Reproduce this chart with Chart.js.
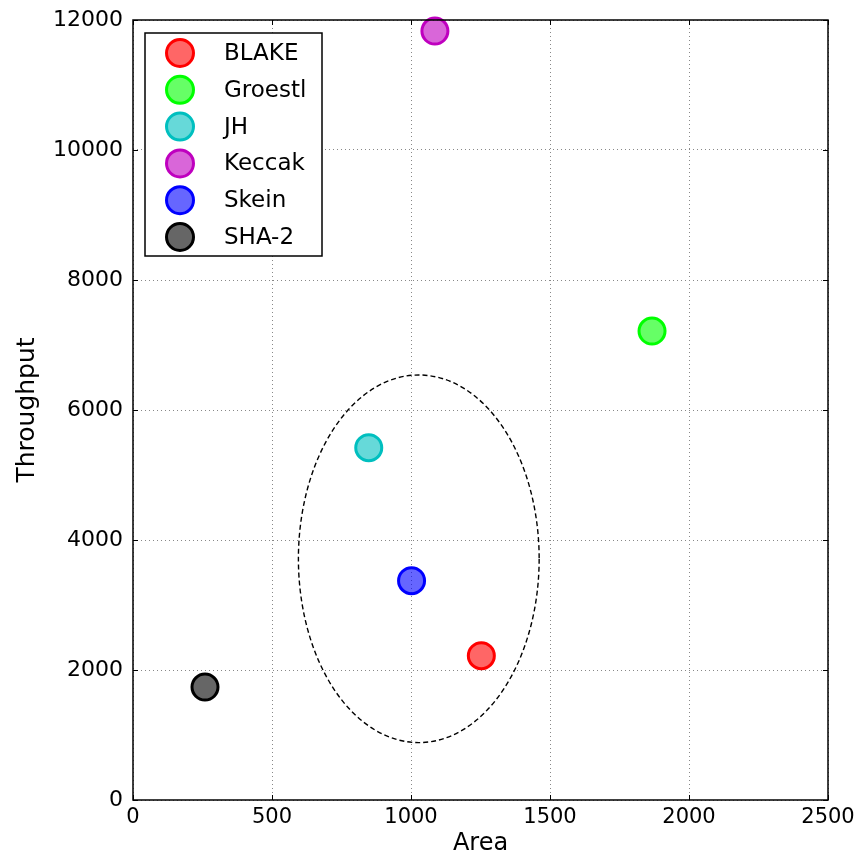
<!DOCTYPE html>
<html>
<head>
<meta charset="utf-8">
<script src="https://cdn.jsdelivr.net/npm/chart.js@4"></script>
<style>
  html, body { margin: 0; padding: 0; background: #fff; }
  #wrap { width: 861px; height: 858px; }
</style>
</head>
<body>
<div id="wrap"><canvas id="scatterChart" width="861" height="858"></canvas></div>
<script>
// datos
var categories = ['BLAKE', 'Groestl', 'JH', 'Keccak', 'Skein', 'SHA-2'];
var areaValues = [1253, 1867, 848, 1086, 1002, 259];
var throughputValues = [2220, 7215, 5420, 11830, 3374, 1738];
var pointColors = ['#ff0000', '#00ff00', '#00bfbf', '#bf00bf', '#0000ff', '#000000'];
var xTicks = [0, 500, 1000, 1500, 2000, 2500];
var yTicks = [0, 2000, 4000, 6000, 8000, 10000, 12000];
// elipse: centro x, centro y, radio x, radio y (unidades de datos)
var ellipse = [1028, 3711, 433, 2828];

var FONT = 'DejaVu Sans';

function withAlpha(hex, a) {
    var r = parseInt(hex.substr(1, 2), 16);
    var g = parseInt(hex.substr(3, 2), 16);
    var b = parseInt(hex.substr(5, 2), 16);
    return 'rgba(' + r + ',' + g + ',' + b + ',' + a + ')';
}

var datasets = [];
for (var i = 0; i < categories.length; i++) {
    datasets.push({
        label: categories[i],
        data: [{ x: areaValues[i], y: throughputValues[i] }],
        backgroundColor: withAlpha(pointColors[i], 0.6),
        borderColor: pointColors[i],
        borderWidth: 3,
        pointRadius: 13,
        pointHoverRadius: 13,
        clip: false
    });
}

// marco, marcas interiores y elipse
var framePlugin = {
    id: 'frame',
    afterDatasetsDraw: function(chart) {
        var ctx = chart.ctx;
        var a = chart.chartArea;
        var xs = chart.scales.x, ys = chart.scales.y;
        ctx.save();
        // elipse
        var cx = xs.getPixelForValue(ellipse[0]);
        var cy = ys.getPixelForValue(ellipse[1]);
        var rx = Math.abs(xs.getPixelForValue(ellipse[0] + ellipse[2]) - cx);
        var ry = Math.abs(ys.getPixelForValue(ellipse[1] + ellipse[3]) - cy);
        ctx.beginPath();
        ctx.setLineDash([5, 3]);
        ctx.lineWidth = 1.4;
        ctx.strokeStyle = '#000';
        ctx.ellipse(cx, cy, rx, ry, 0, 0, Math.PI * 2);
        ctx.stroke();
        ctx.setLineDash([]);
        // marcas
        ctx.lineWidth = 1;
        ctx.beginPath();
        xTicks.forEach(function(v) {
            var px = Math.round(xs.getPixelForValue(v)) + 0.5;
            ctx.moveTo(px, a.bottom); ctx.lineTo(px, a.bottom - 5);
            ctx.moveTo(px, a.top); ctx.lineTo(px, a.top + 5);
        });
        yTicks.forEach(function(v) {
            var py = Math.round(ys.getPixelForValue(v)) + 0.5;
            ctx.moveTo(a.left, py); ctx.lineTo(a.left + 5, py);
            ctx.moveTo(a.right, py); ctx.lineTo(a.right - 5, py);
        });
        ctx.stroke();
        // marco
        ctx.lineWidth = 1.5;
        ctx.strokeRect(a.left, a.top, a.right - a.left, a.bottom - a.top);
        ctx.restore();
    },
    afterDraw: function(chart) {
        // leyenda dentro del area
        var ctx = chart.ctx;
        ctx.save();
        ctx.fillStyle = '#fff';
        ctx.fillRect(145, 33, 177, 223);
        ctx.lineWidth = 1.5;
        ctx.strokeStyle = '#000';
        ctx.strokeRect(145, 33, 177, 223);
        ctx.font = '23px "' + FONT + '"';
        ctx.textBaseline = 'middle';
        chart.data.datasets.forEach(function(ds, k) {
            var y = 53 + k * 36.8;
            ctx.beginPath();
            ctx.arc(180, y, 13.5, 0, Math.PI * 2);
            ctx.fillStyle = ds.backgroundColor;
            ctx.fill();
            ctx.lineWidth = 3;
            ctx.strokeStyle = ds.borderColor;
            ctx.stroke();
            ctx.fillStyle = '#000';
            ctx.fillText(ds.label, 224, y + 1);
        });
        ctx.restore();
    }
};

function plainLabel(v) { return String(v); }

var ctx = document.getElementById('scatterChart').getContext('2d');
var scatterChart = new Chart(ctx, {
    type: 'scatter',
    data: { datasets: datasets },
    plugins: [framePlugin],
    options: {
        responsive: false,
        animation: false,
        events: [],
        layout: { padding: { top: 20, right: 33, left: 0, bottom: 0 } },
        plugins: {
            legend: { display: false },
            tooltip: { enabled: false }
        },
        scales: {
            x: {
                type: 'linear',
                min: 0,
                max: 2500,
                afterBuildTicks: function(scale) {
                    scale.ticks = xTicks.map(function(v) { return { value: v }; });
                },
                afterFit: function(scale) {
                    scale.height = 58;
                    scale.paddingLeft = 0;
                    scale.paddingRight = 0;
                },
                grid: { color: '#888', lineWidth: 1, drawTicks: false },
                border: { display: false, dash: [1, 3] },
                ticks: {
                    padding: 5,
                    color: '#000',
                    font: { family: FONT, size: 21 },
                    maxRotation: 0,
                    callback: plainLabel
                },
                title: {
                    display: true,
                    text: 'Area',
                    color: '#000',
                    font: { family: FONT, size: 24 },
                    padding: { top: 0, bottom: 0 }
                }
            },
            y: {
                type: 'linear',
                min: 0,
                max: 12000,
                afterBuildTicks: function(scale) {
                    scale.ticks = yTicks.map(function(v) { return { value: v }; });
                },
                afterFit: function(scale) {
                    scale.width = 133;
                    scale.paddingTop = 0;
                    scale.paddingBottom = 0;
                },
                grid: { color: '#888', lineWidth: 1, drawTicks: false },
                border: { display: false, dash: [1, 3] },
                ticks: {
                    padding: 10,
                    color: '#000',
                    font: { family: FONT, size: 22 },
                    callback: plainLabel
                },
                title: {
                    display: true,
                    text: 'Throughput',
                    color: '#000',
                    font: { family: FONT, size: 25 },
                    padding: { top: 12, bottom: 4 }
                }
            }
        }
    }
});
</script>
</body>
</html>
